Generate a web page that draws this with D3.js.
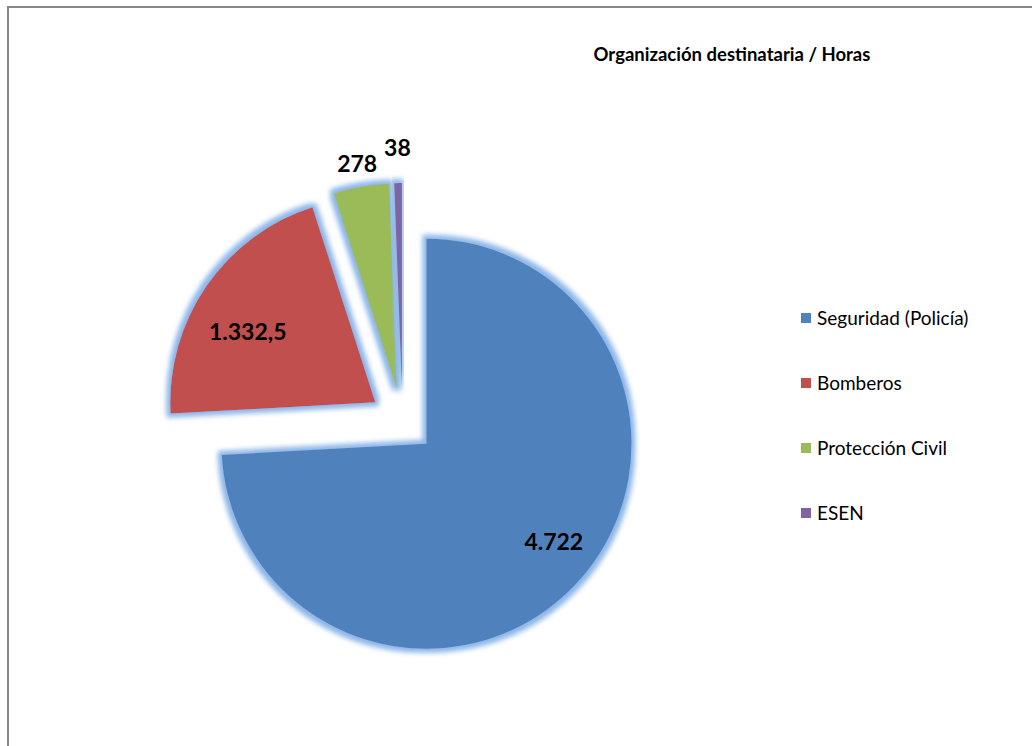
<!DOCTYPE html>
<html>
<head>
<meta charset="utf-8">
<script src="https://cdn.jsdelivr.net/npm/d3@7"></script>
<style>
  html, body { margin: 0; padding: 0; background: #fff; }
  svg { display: block; }
  text { font-family: Lato, "Open Sans", "Liberation Sans", sans-serif; }
</style>
</head>
<body>
<svg id="chart" width="1032" height="746"></svg>
<script>
const categories = ["Seguridad (Policía)", "Bomberos", "Protección Civil", "ESEN"];
const values = [4722, 1332.5, 278, 38];
const valueLabels = ["4.722", "1.332,5", "278", "38"];
const colors = ["#4F81BD", "#C0504D", "#9BBB59", "#8064A2"];
const title = "Organización destinataria / Horas";

const svg = d3.select("#chart");
const W = 1032, H = 746;

// frame
svg.append("rect").attr("x", 8).attr("y", 7).attr("width", W + 20).attr("height", H + 20)
  .attr("fill", "#fff").attr("stroke", "#888").attr("stroke-width", 2);

const defs = svg.append("defs");
const f = defs.append("filter").attr("id", "glow")
  .attr("x", "-20%").attr("y", "-20%").attr("width", "140%").attr("height", "140%");
f.append("feMorphology").attr("in", "SourceAlpha").attr("operator", "dilate").attr("radius", 3.5).attr("result", "d");
f.append("feGaussianBlur").attr("in", "d").attr("stdDeviation", 2.6).attr("result", "b");
f.append("feFlood").attr("flood-color", "#8cb6e8").attr("flood-opacity", 1);
f.append("feComposite").attr("in2", "b").attr("operator", "in").attr("result", "g");
const m = f.append("feMerge");
m.append("feMergeNode").attr("in", "g");
m.append("feMergeNode").attr("in", "SourceGraphic");

// title
svg.append("text").attr("x", 732).attr("y", 61).attr("text-anchor", "middle")
  .attr("font-size", 18.5).attr("font-weight", "bold").attr("fill", "#000").text(title);

const cx = 402.5, cy = 421, R = 205, explode = 33;
const data = categories.map((c, i) => ({ name: c, value: values[i], label: valueLabels[i], color: colors[i] }));
const pie = d3.pie().sort(null).value(d => d.value).startAngle(0).endAngle(2 * Math.PI);
const arcs = pie(data);
const arc = d3.arc().innerRadius(0).outerRadius(R);

const g = svg.append("g").attr("transform", `translate(${cx},${cy})`);
const total = d3.sum(values);

arcs.forEach((a, i) => {
  const mid = (a.startAngle + a.endAngle) / 2;
  const ox = Math.sin(mid) * explode, oy = -Math.cos(mid) * explode;
  const sg = g.append("g").attr("transform", `translate(${ox},${oy})`);
  sg.append("path").attr("d", arc(a)).attr("fill", a.data.color).attr("filter", "url(#glow)");
});

arcs.forEach((a, i) => {
  const mid = (a.startAngle + a.endAngle) / 2;
  const ox = Math.sin(mid) * explode, oy = -Math.cos(mid) * explode;
  const share = a.data.value / total;
  let lr, la = mid;
  if (share > 0.5) { lr = R * 0.785; la = mid - 0.1; }
  else if (share > 0.1) { lr = R * 0.71; la = mid - 0.1; }
  else if (share > 0.02) lr = R + 23;
  else lr = R + 35;
  const lx = ox + Math.sin(la) * lr, ly = oy - Math.cos(la) * lr;
  g.append("text").attr("x", lx).attr("y", ly).attr("dy", "0.35em")
    .attr("text-anchor", "middle").attr("font-size", 23).attr("font-weight", "bold")
    .attr("fill", "#000").text(a.data.label);
});

// legend
const legY = d3.scalePoint().domain(categories).range([318, 513]);
const leg = svg.append("g");
categories.forEach((c, i) => {
  const y = legY(c);
  leg.append("rect").attr("x", 801).attr("y", y - 5).attr("width", 10).attr("height", 10).attr("fill", colors[i]);
  leg.append("text").attr("x", 817).attr("y", y).attr("dy", "0.35em")
    .attr("font-size", 19).attr("fill", "#000").text(c);
});
</script>
</body>
</html>
